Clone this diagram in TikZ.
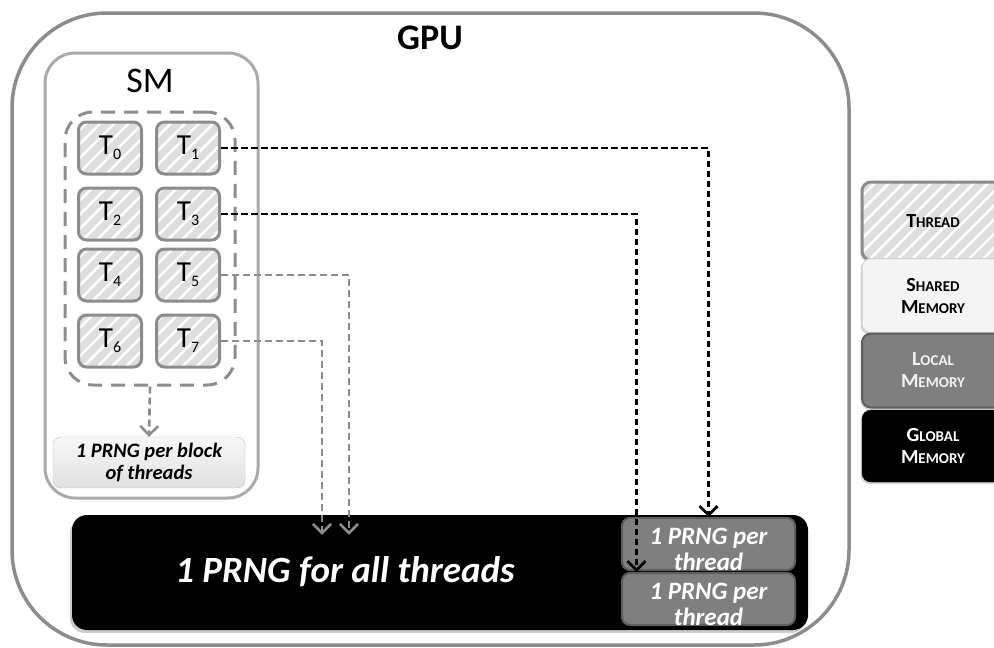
\documentclass[tikz,border=0pt]{standalone}
\usepackage{fontspec}
\setmainfont{Carlito}
\usetikzlibrary{shadows,arrows.meta,positioning,calc,patterns.meta}

\definecolor{gpuline}{HTML}{8C8C8C}
\definecolor{smline}{HTML}{AAAAAA}
\definecolor{hatchfill}{HTML}{DEDEDE}
\definecolor{localfill}{HTML}{7F7F7F}
\definecolor{localline}{HTML}{5E5E5E}
\definecolor{sharedfill}{HTML}{F4F4F4}
\definecolor{sharedline}{HTML}{D2D2D2}

% thread label with lowered index, fake small caps for the key
\newcommand{\thr}[1]{T\raisebox{-5pt}{\fontsize{16}{16}\selectfont #1}}
\newcommand{\fsc}[2]{#1{\fontsize{15}{15}\selectfont #2}}

\tikzset{
  thread/.style={draw=gpuline, line width=3pt, rounded corners=8pt,
    preaction={fill=hatchfill},
    pattern={Lines[angle=45,distance=10pt,line width=2.5pt]}, pattern color=white,
    minimum width=63pt, minimum height=52pt, inner sep=0pt,
    font=\fontsize{29}{29}\selectfont},
  localbox/.style={draw=localline, line width=2pt, rounded corners=8pt, fill=localfill,
    minimum width=173pt, minimum height=52pt, inner sep=0pt},
  rngtext/.style={text=white, align=center, font=\fontsize{25}{26}\selectfont\bfseries\itshape},
  keybox/.style={rounded corners=9pt, minimum width=142pt, inner sep=0pt, align=center,
    font=\fontsize{20}{22}\selectfont\bfseries,
    drop shadow={opacity=0.35, shadow xshift=-1.5pt, shadow yshift=-2pt}},
  grayflow/.style={draw=gpuline, line width=2.6pt, dash pattern=on 7pt off 4pt,
    -{Straight Barb[length=9pt,width=18pt]}},
  blackflow/.style={draw=black, line width=2.8pt, dash pattern=on 6.5pt off 3.5pt,
    -{Straight Barb[length=9pt,width=18pt]}}
}

\begin{document}
\begin{tikzpicture}[x=1pt,y=-1pt]

  \clip (0,0) rectangle (994,648);

  % the GPU
  \node[draw=gpuline, line width=3.5pt, rounded corners=95pt,
        minimum width=837pt, minimum height=632pt] (gpu) at (430.5,329) {};
  \node[font=\fontsize{36}{36}\selectfont\bfseries] (gputitle) at (430,38) {GPU};

  % the SM and its block of threads
  \node[draw=smline, line width=3pt, rounded corners=30pt, fill=white,
        minimum width=213pt, minimum height=445pt] (sm) at (151.5,275.5) {};
  \node[font=\fontsize{36}{36}\selectfont] (smtitle) at (150,81) {SM};
  \node[draw=gpuline, line width=3pt, dash pattern=on 14pt off 9pt, rounded corners=28pt,
        minimum width=170pt, minimum height=273pt] (blk) at (150,248.5) {};

  \node[thread] (t0) at (110,148) {\thr{0}};
  \node[thread] (t1) at (188,148) {\thr{1}};
  \node[thread] (t2) at (110,214) {\thr{2}};
  \node[thread] (t3) at (188,214) {\thr{3}};
  \node[thread] (t4) at (110,275) {\thr{4}};
  \node[thread] (t5) at (188,275) {\thr{5}};
  \node[thread] (t6) at (110,341) {\thr{6}};
  \node[thread] (t7) at (188,341) {\thr{7}};

  \node[draw=white!75!black, rounded corners=8pt,
        top color=white!97!black, bottom color=white!88!black,
        minimum width=192pt, minimum height=51pt, inner sep=0pt, align=center,
        font=\fontsize{20.5}{22}\selectfont\bfseries\itshape] (blkrng) at (149,462.5)
        {1 PRNG per block\\of threads};

  % global memory
  \node[fill=black, rounded corners=15pt, minimum width=736pt, minimum height=115pt,
        drop shadow={opacity=0.4, shadow xshift=-2pt, shadow yshift=-3pt}] (all) at (440,572.5) {};
  \node[text=white, font=\fontsize{37}{37}\selectfont\bfseries\itshape] (alltxt) at (345,572)
        {1 PRNG for all threads};

  % local memory
  \node[localbox, label={[rngtext, yshift=-5pt]center:{1 PRNG per\\thread}}] (loc1) at (708.5,544) {};
  \node[localbox, label={[rngtext, yshift=-5pt]center:{1 PRNG per\\thread}}] (loc2) at (708.5,599) {};

  % the key
  \node[keybox, thread, minimum width=142pt, minimum height=78pt, rounded corners=9pt,
        font=\fontsize{20}{22}\selectfont\bfseries] (kthread) at (933,221) {\fsc{T}{HREAD}};
  \node[keybox, draw=sharedline, line width=1pt, fill=sharedfill, minimum height=74pt]
        (kshared) at (933,295.5) {\fsc{S}{HARED}\\\fsc{M}{EMORY}};
  \node[keybox, draw=localline, line width=2pt, fill=localfill, text=white!95!black,
        minimum height=74pt] (klocal) at (933,370.5) {\fsc{L}{OCAL}\\\fsc{M}{EMORY}};
  \node[keybox, draw=black, fill=black, text=white, minimum height=72pt]
        (kglobal) at (933,446) {\fsc{G}{LOBAL}\\\fsc{M}{EMORY}};

  % where each thread gets its numbers
  \draw[grayflow] (blk.south) -- (blkrng.north);
  \draw[grayflow] (t5.east) -| ([xshift=-91pt,yshift=-20pt]all.north);
  \draw[grayflow] (t7.east) -| ([xshift=-118pt,yshift=-20pt]all.north);
  \draw[blackflow] (t1.east) -| (loc1.north);
  \draw[blackflow] (t3.east) -| ([xshift=-72pt]loc2.north);

\end{tikzpicture}
\end{document}
